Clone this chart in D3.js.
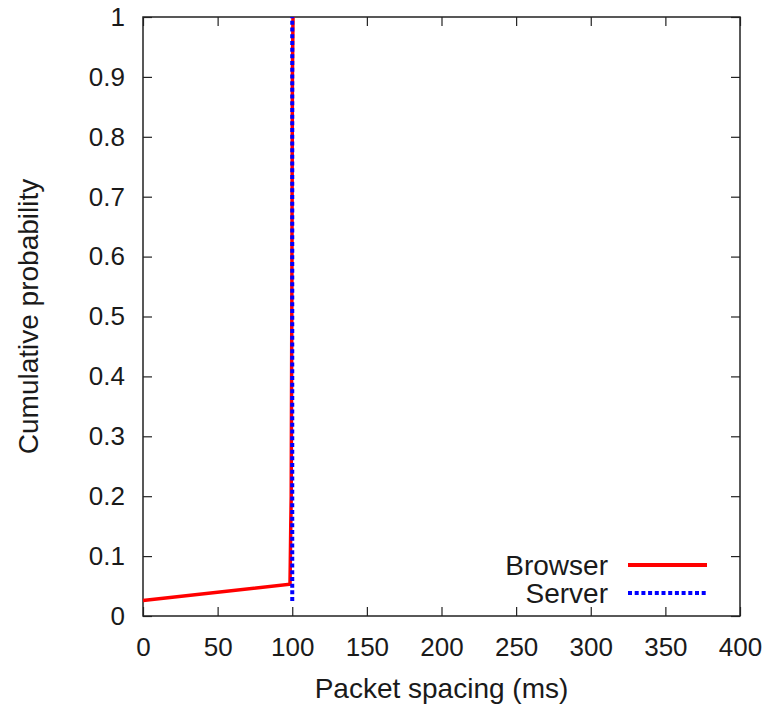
<!DOCTYPE html>
<html>
<head>
<meta charset="utf-8">
<script src="https://cdn.jsdelivr.net/npm/d3@7"></script>
<style>
  body { margin: 0; background: #fff; }
  text { font-family: "Liberation Sans", Arial, sans-serif; fill: #1a1a1a; }
</style>
</head>
<body>
<script>
// chart size
var w = 773;
var h = 711;

var pad = {top: 17, bottom: 95, left: 143, right: 33};

// data
var browserX = [0, 98.5, 98.7, 99.0, 99.3, 99.7, 100.1, 100.5];
var browserY = [0.026, 0.053, 0.09, 0.15, 0.2, 0.5, 0.9, 1];

var serverX = [100, 100];
var serverY = [0.025, 1];

var xTicks = [0, 50, 100, 150, 200, 250, 300, 350, 400];
var yTicks = [0, 0.1, 0.2, 0.3, 0.4, 0.5, 0.6, 0.7, 0.8, 0.9, 1];

var seriesNames = ["Browser", "Server"];
var seriesColors = ["#ff0000", "#0000ff"];

var svg = d3.select("body")
            .append("svg")
            .attr("width", w)
            .attr("height", h);

var xScale = d3.scaleLinear()
               .domain([0, 400])
               .range([pad.left, w - pad.right]);

var yScale = d3.scaleLinear()
               .domain([0, 1])
               .range([h - pad.bottom, pad.top]);

var tickLen = 9;

// axes with inward ticks, mirrored on top and right
svg.append("g")
   .attr("class", "axis")
   .attr("transform", "translate(0," + (h - pad.bottom) + ")")
   .call(d3.axisBottom(xScale).tickValues(xTicks).tickSizeInner(-tickLen).tickSizeOuter(0).tickPadding(22));

svg.append("g")
   .attr("class", "axis")
   .attr("transform", "translate(0," + pad.top + ")")
   .call(d3.axisTop(xScale).tickValues(xTicks).tickSizeInner(-tickLen).tickSizeOuter(0).tickFormat(""));

svg.append("g")
   .attr("class", "axis")
   .attr("transform", "translate(" + pad.left + ",0)")
   .call(d3.axisLeft(yScale).tickValues(yTicks).tickSizeInner(-tickLen).tickSizeOuter(0).tickPadding(18)
     .tickFormat(function(d) { return d3.format("")(d); }));

svg.append("g")
   .attr("class", "axis")
   .attr("transform", "translate(" + (w - pad.right) + ",0)")
   .call(d3.axisRight(yScale).tickValues(yTicks).tickSizeInner(-tickLen).tickSizeOuter(0).tickFormat(""));

svg.selectAll(".axis .domain").remove();
svg.selectAll(".axis line").attr("stroke", "#222").attr("stroke-width", 1.2);
svg.selectAll(".axis text")
   .style("font-size", "26px")
   .style("font-family", "'Liberation Sans', Arial, sans-serif")
   .attr("fill", "#1a1a1a");

// frame
svg.append("rect")
   .attr("x", xScale(0))
   .attr("y", yScale(1))
   .attr("width", xScale(400) - xScale(0))
   .attr("height", yScale(0) - yScale(1))
   .attr("fill", "none")
   .attr("stroke", "#222")
   .attr("stroke-width", 1.5);

var line = d3.line()
             .x(function(d) { return xScale(d[0]); })
             .y(function(d) { return yScale(d[1]); });

var serverData = d3.zip(serverX, serverY);
var browserData = d3.zip(browserX, browserY);

svg.append("path")
   .datum(browserData)
   .attr("d", line)
   .attr("fill", "none")
   .attr("stroke", seriesColors[0])
   .attr("stroke-width", 3.5);

svg.append("path")
   .datum(serverData)
   .attr("d", line)
   .attr("fill", "none")
   .attr("stroke", seriesColors[1])
   .attr("stroke-width", 4)
   .attr("stroke-dasharray", "4,2.7");

// legend
var legend = svg.selectAll(".legend")
                .data(seriesNames)
                .enter()
                .append("g")
                .attr("class", "legend")
                .attr("transform", function(d, i) {
                    return "translate(0," + (565 + i * 28) + ")";
                });

legend.append("text")
      .attr("x", 608)
      .attr("y", 10)
      .attr("text-anchor", "end")
      .style("font-size", "28px")
      .text(function(d) { return d; });

legend.append("line")
      .attr("x1", 628)
      .attr("x2", 707)
      .attr("y1", 0)
      .attr("y2", 0)
      .attr("stroke", function(d, i) { return seriesColors[i]; })
      .attr("stroke-width", function(d, i) { return i == 0 ? 4 : 4; })
      .attr("stroke-dasharray", function(d, i) { return i == 0 ? null : "4,2.7"; });

// axis labels
svg.append("text")
   .attr("x", (xScale(0) + xScale(400)) / 2)
   .attr("y", 698)
   .attr("text-anchor", "middle")
   .style("font-size", "28px")
   .text("Packet spacing (ms)");

svg.append("text")
   .attr("transform", "translate(28," + ((yScale(0) + yScale(1)) / 2) + ") rotate(-90)")
   .attr("text-anchor", "middle")
   .attr("dy", "0.35em")
   .style("font-size", "28px")
   .text("Cumulative probability");
</script>
</body>
</html>
